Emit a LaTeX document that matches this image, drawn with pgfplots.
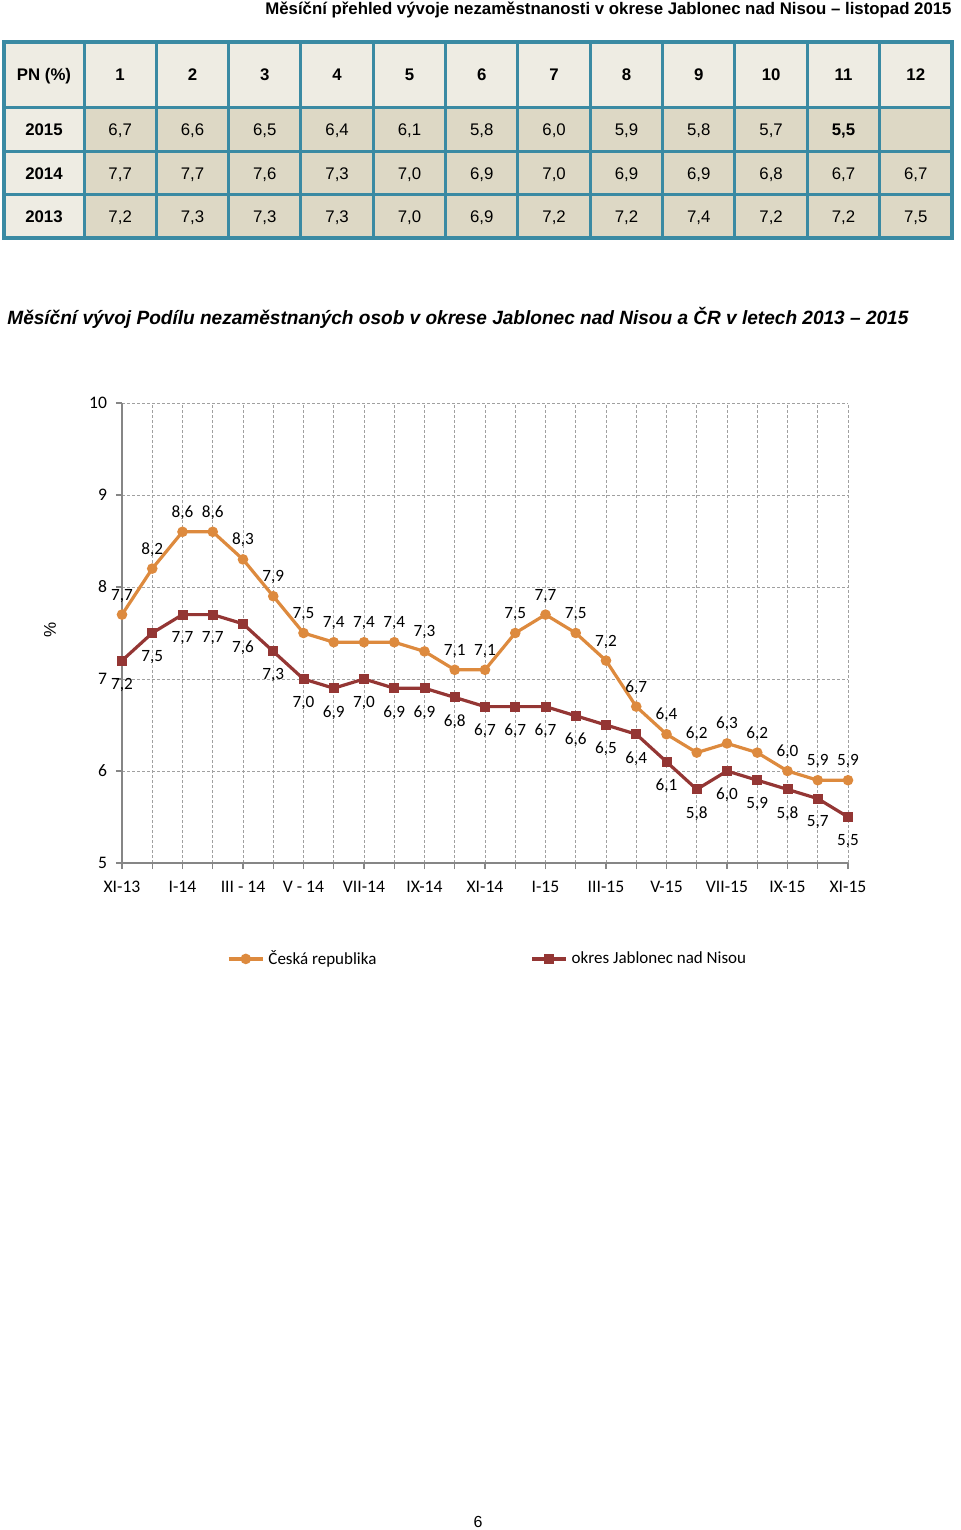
\documentclass[border=0pt]{standalone}
\usepackage{pgfplots}
\pgfplotsset{compat=1.18}
\usepackage{pgfplotstable}
\usepackage{graphicx}
\usepackage{fontspec}
\setmainfont{Carlito}
\newfontfamily\arial{Liberation Sans}
\definecolor{crorange}{RGB}{221,138,62}
\definecolor{jabred}{RGB}{148,54,52}
\definecolor{tborder}{RGB}{58,138,163}
\definecolor{cellL}{RGB}{238,236,227}
\definecolor{cellD}{RGB}{221,216,197}
\definecolor{axgray}{RGB}{134,134,134}
\definecolor{gridgray}{RGB}{160,160,160}

\pgfplotstableread{
x cr jab
0 7.7 7.2
1 8.2 7.5
2 8.6 7.7
3 8.6 7.7
4 8.3 7.6
5 7.9 7.3
6 7.5 7.0
7 7.4 6.9
8 7.4 7.0
9 7.4 6.9
10 7.3 6.9
11 7.1 6.8
12 7.1 6.7
13 7.5 6.7
14 7.7 6.7
15 7.5 6.6
16 7.2 6.5
17 6.7 6.4
18 6.4 6.1
19 6.2 5.8
20 6.3 6.0
21 6.2 5.9
22 6.0 5.8
23 5.9 5.7
24 5.9 5.5
}\datatable

\begin{document}
\begin{tikzpicture}
\path[use as bounding box] (0,0) rectangle (480pt,-765pt);
\begin{scope}[x=0.5pt,y=-0.5pt]
  % page title
  \node[anchor=base east, inner sep=0pt, font=\arial\bfseries\fontsize{8.4}{10}\selectfont] at (952,15)
    {Měsíční přehled vývoje nezaměstnanosti v okrese Jablonec nad Nisou – listopad 2015};
  % table
  \fill[cellL] (4,42) rectangle (952,238);
  \fill[cellD] (84,108) rectangle (952,238);
  \foreach \i in {0,...,11} \draw[tborder, line width=1.5pt] ({84+72.33*\i},42) -- ({84+72.33*\i},238);
  \foreach \yy in {108,152,195} \draw[tborder, line width=1.5pt] (4,\yy) -- (952,\yy);
  \draw[tborder, line width=1.6pt] (4,42) rectangle (952,238);
  \tikzset{tb/.style={anchor=base, inner sep=0pt, font=\arial\fontsize{8.4}{10}\selectfont},
           tbb/.style={tb, font=\arial\bfseries\fontsize{8.4}{10}\selectfont}}
  \node[tbb] at (44,81) {PN (\%)};
  \foreach \v [count=\i] in {1,...,12} \node[tbb] at ({84+72.33*(\i-0.5)},81) {\v};
  \node[tbb] at (44,136) {2015};
  \node[tbb] at (44,179.5) {2014};
  \node[tbb] at (44,222.5) {2013};
  \foreach \v [count=\i] in {{6,7},{6,6},{6,5},{6,4},{6,1},{5,8},{6,0},{5,9},{5,8},{5,7}}
    \node[tb] at ({84+72.33*(\i-0.5)},136) {\v};
  \node[tbb] at ({84+72.33*10.5},136) {5,5};
  \foreach \v [count=\i] in {{7,7},{7,7},{7,6},{7,3},{7,0},{6,9},{7,0},{6,9},{6,9},{6,8},{6,7},{6,7}}
    \node[tb] at ({84+72.33*(\i-0.5)},179.5) {\v};
  \foreach \v [count=\i] in {{7,2},{7,3},{7,3},{7,3},{7,0},{6,9},{7,2},{7,2},{7,4},{7,2},{7,2},{7,5}}
    \node[tb] at ({84+72.33*(\i-0.5)},222.5) {\v};
  % chart title
  \node[anchor=base west, inner sep=0pt] at (7,324)
    {\resizebox{450.5pt}{\height}{\arial\bfseries\itshape\fontsize{9.6}{11}\selectfont Měsíční vývoj Podílu nezaměstnaných osob v okrese Jablonec nad Nisou a ČR v letech 2013 – 2015}};
  % page number
  \node[anchor=base, inner sep=0pt, font=\arial\fontsize{8}{10}\selectfont] at (478,1527) {6};
\end{scope}

\begin{axis}[
  at={(61pt,-431.5pt)}, anchor=south west,
  scale only axis, width=363pt, height=230pt,
  xmin=0, xmax=24, ymin=5, ymax=10,
  xtick={0,...,24},
  xticklabels={XI-13,{},I-14,{},III - 14,{},V - 14,{},VII-14,{},IX-14,{},XI-14,{},I-15,{},III-15,{},V-15,{},VII-15,{},IX-15,{},XI-15},
  ytick={5,...,10},
  axis x line=bottom, axis y line=left,
  axis line style={-, draw=axgray, line width=0.75pt},
  grid=major, major grid style={draw=gridgray, dash pattern=on 1.5pt off 1pt, line width=0.5pt},
  tick align=outside, major tick length=3pt,
  tick style={draw=axgray, line width=0.6pt},
  ticklabel style={font=\fontsize{8.8}{10}\selectfont},
  xticklabel style={yshift=-2.5pt},
  yticklabel style={xshift=-1pt},
  /pgf/number format/assume math mode=true,
  clip=false,
  ylabel={\%},
  ylabel style={at={(axis description cs:-0.099,0.5065)}, anchor=center, rotate=0, font=\arial\fontsize{8.5}{10}\selectfont},
  legend style={at={(0.505,-0.2085)}, anchor=center, draw=none, fill=none,
     legend columns=2, font=\fontsize{8.5}{10}\selectfont,
     /tikz/every even column/.append style={column sep=75pt}},
  legend cell align=left,
  nodes near coords={\pgfmathprintnumber[fixed,fixed zerofill,precision=1,use comma,assume math mode=true]{\pgfplotspointmeta}},
  every node near coord/.append style={font=\fontsize{8.6}{10}\selectfont, text=black},
]
\addplot[color=crorange, line width=1.6pt, mark=*, mark size=1.8pt,
   every node near coord/.append style={anchor=south, yshift=2pt}]
   table[x=x, y=cr] {\datatable};
\addlegendentry{Česká republika}
\addplot[color=jabred, line width=1.6pt, mark=square*, mark size=1.7pt,
   every node near coord/.append style={anchor=north, yshift=-4.5pt}]
   table[x=x, y=jab] {\datatable};
\addlegendentry{okres Jablonec nad Nisou}
\end{axis}
\end{tikzpicture}
\end{document}
